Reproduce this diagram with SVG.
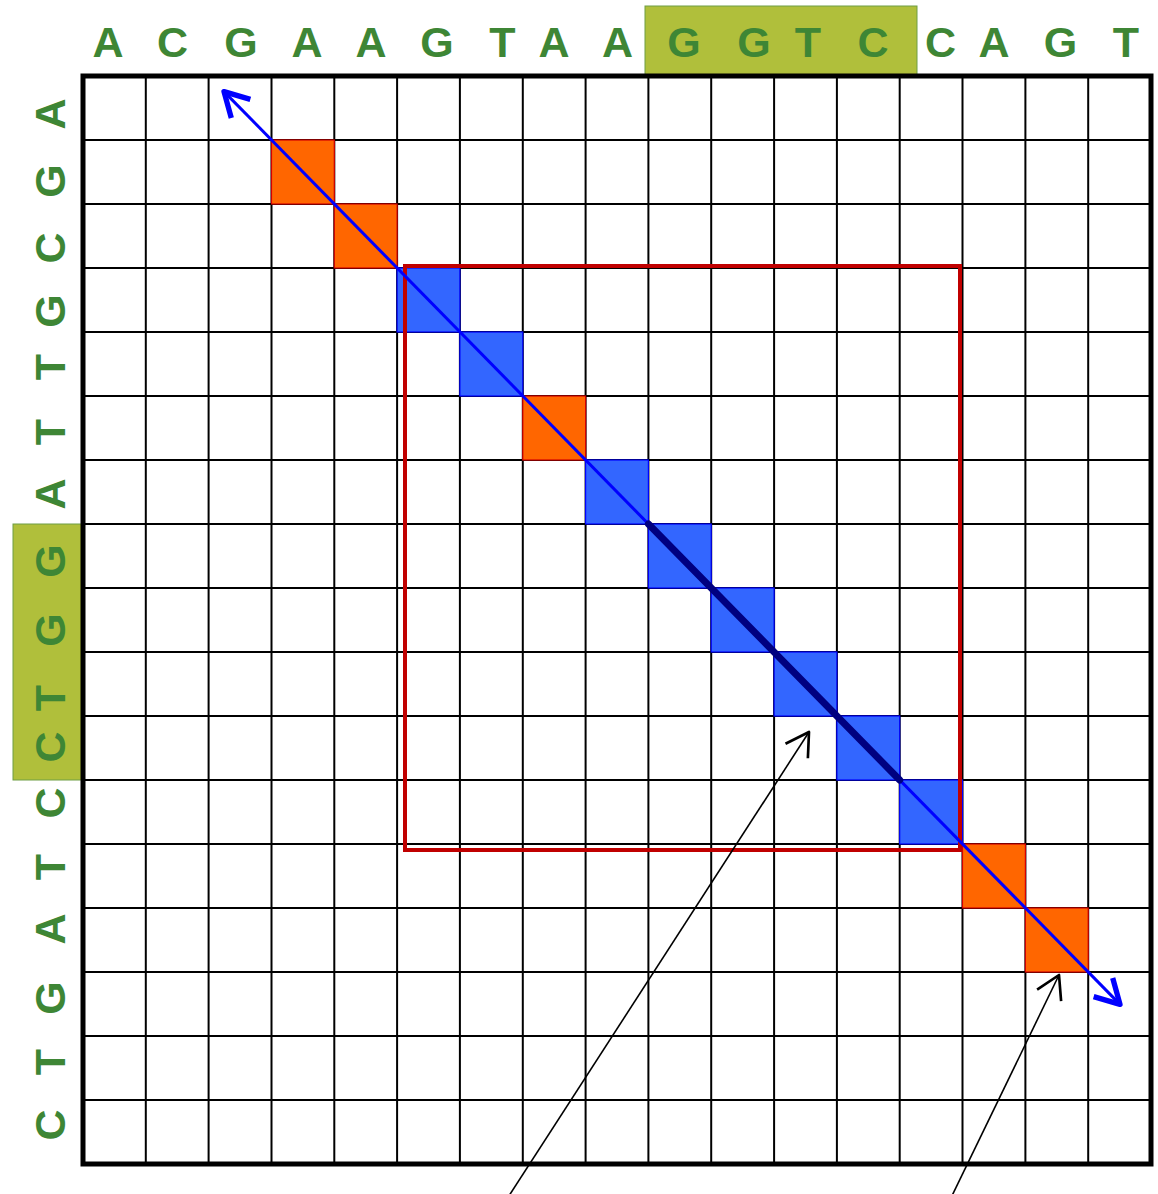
<svg xmlns="http://www.w3.org/2000/svg" width="1158" height="1194" viewBox="0 0 1158 1194">
  <style>
    .lbl { font-family: "Liberation Sans", Arial, sans-serif; font-weight: bold; font-size: 43px; fill: #3E8635; text-anchor: middle; }
    .hl { fill: #B0BF3B; stroke: #6E9E44; stroke-width: 1; }
    .grid { stroke: #000; stroke-width: 2; fill: none; }
    .border { stroke: #000; stroke-width: 5; fill: none; }
    .org { fill: #FF6600; stroke: #D40000; stroke-width: 1.2; }
    .blu { fill: #3366FF; stroke: #0000FF; stroke-width: 1.2; }
  </style>
  <defs>
    <marker id="blueHead" markerUnits="userSpaceOnUse" markerWidth="40" markerHeight="40" refX="0" refY="0" viewBox="-25 -15 30 30" orient="auto-start-reverse" overflow="visible">
      <path d="M -18,-10 L 0,0 L -18,10" fill="none" stroke="#0000FF" stroke-width="4" stroke-linejoin="round" stroke-linecap="butt"/>
    </marker>
    <marker id="blackHead" markerUnits="userSpaceOnUse" markerWidth="40" markerHeight="40" refX="0" refY="0" viewBox="-25 -15 30 30" orient="auto" overflow="visible">
      <path d="M -17,-10 L 0,0 L -17,10" fill="none" stroke="#000" stroke-width="2" stroke-linejoin="round"/>
    </marker>
  </defs>
  <rect width="1158" height="1194" fill="#fff"/>

  <g id="top-highlight"><rect class="hl" x="645" y="6" width="272" height="70"/></g>
  <g id="left-highlight"><rect class="hl" x="13" y="524" width="69" height="256"/></g>

  <g id="top-sequence">
    <text class="lbl" x="108" y="57">A</text>
    <text class="lbl" x="172.5" y="57">C</text>
    <text class="lbl" x="241" y="57">G</text>
    <text class="lbl" x="307" y="57">A</text>
    <text class="lbl" x="371" y="57">A</text>
    <text class="lbl" x="437" y="57">G</text>
    <text class="lbl" x="502.5" y="57">T</text>
    <text class="lbl" x="554" y="57">A</text>
    <text class="lbl" x="617.5" y="57">A</text>
    <text class="lbl" x="684" y="57">G</text>
    <text class="lbl" x="754" y="57">G</text>
    <text class="lbl" x="808" y="57">T</text>
    <text class="lbl" x="873" y="57">C</text>
    <text class="lbl" x="940.5" y="57">C</text>
    <text class="lbl" x="994" y="57">A</text>
    <text class="lbl" x="1060.5" y="57">G</text>
    <text class="lbl" x="1126" y="57">T</text>
  </g>

  <g id="left-sequence">
    <text class="lbl" transform="translate(65,114) rotate(-90)">A</text>
    <text class="lbl" transform="translate(65,181) rotate(-90)">G</text>
    <text class="lbl" transform="translate(65,248) rotate(-90)">C</text>
    <text class="lbl" transform="translate(65,311) rotate(-90)">G</text>
    <text class="lbl" transform="translate(65,367) rotate(-90)">T</text>
    <text class="lbl" transform="translate(65,432) rotate(-90)">T</text>
    <text class="lbl" transform="translate(65,494) rotate(-90)">A</text>
    <text class="lbl" transform="translate(65,561) rotate(-90)">G</text>
    <text class="lbl" transform="translate(65,630) rotate(-90)">G</text>
    <text class="lbl" transform="translate(65,698) rotate(-90)">T</text>
    <text class="lbl" transform="translate(65,747) rotate(-90)">C</text>
    <text class="lbl" transform="translate(65,803) rotate(-90)">C</text>
    <text class="lbl" transform="translate(65,867) rotate(-90)">T</text>
    <text class="lbl" transform="translate(65,929) rotate(-90)">A</text>
    <text class="lbl" transform="translate(65,998) rotate(-90)">G</text>
    <text class="lbl" transform="translate(65,1062) rotate(-90)">T</text>
    <text class="lbl" transform="translate(65,1125) rotate(-90)">C</text>
  </g>

  <g id="grid">
    <path class="grid" d="M145.8,76V1164 M208.6,76V1164 M271.5,76V1164 M334.3,76V1164 M397.1,76V1164 M459.9,76V1164 M522.8,76V1164 M585.6,76V1164 M648.4,76V1164 M711.2,76V1164 M774.1,76V1164 M836.9,76V1164 M899.7,76V1164 M962.5,76V1164 M1025.4,76V1164 M1088.2,76V1164"/>
    <path class="grid" d="M83,140H1151 M83,204H1151 M83,268H1151 M83,332H1151 M83,396H1151 M83,460H1151 M83,524H1151 M83,588H1151 M83,652H1151 M83,716H1151 M83,780H1151 M83,844H1151 M83,908H1151 M83,972H1151 M83,1036H1151 M83,1100H1151"/>
  </g>

  <g id="cells">
    <rect class="org" x="271.5" y="140" width="62.8" height="64"/>
    <rect class="org" x="334.3" y="204" width="62.8" height="64"/>
    <rect class="blu" x="397.1" y="268" width="62.8" height="64"/>
    <rect class="blu" x="459.9" y="332" width="62.9" height="64"/>
    <rect class="org" x="522.8" y="396" width="62.8" height="64"/>
    <rect class="blu" x="585.6" y="460" width="62.8" height="64"/>
    <rect class="blu" x="648.4" y="524" width="62.8" height="64"/>
    <rect class="blu" x="711.2" y="588" width="62.9" height="64"/>
    <rect class="blu" x="774.1" y="652" width="62.8" height="64"/>
    <rect class="blu" x="836.9" y="716" width="62.8" height="64"/>
    <rect class="blu" x="899.7" y="780" width="62.8" height="64"/>
    <rect class="org" x="962.5" y="844" width="62.9" height="64"/>
    <rect class="org" x="1025.4" y="908" width="62.8" height="64"/>
  </g>

  <g id="grid-border">
    <rect class="border" x="83" y="76" width="1068" height="1088"/>
  </g>

  <g id="window">
    <rect x="405" y="266" width="555" height="584" fill="none" stroke="#C00000" stroke-width="4"/>
  </g>

  <g id="connectors">
    <line x1="224" y1="91.6" x2="1120" y2="1004.4" stroke="#0000FF" stroke-width="3" marker-start="url(#blueHead)" marker-end="url(#blueHead)"/>
    <line x1="648.4" y1="524" x2="899.7" y2="780" stroke="#000080" stroke-width="7" stroke-linecap="round"/>
    <line x1="505" y1="1202" x2="809" y2="732" stroke="#000" stroke-width="1.6" marker-end="url(#blackHead)"/>
    <line x1="948" y1="1204" x2="1059" y2="975" stroke="#000" stroke-width="1.6" marker-end="url(#blackHead)"/>
  </g>
</svg>
